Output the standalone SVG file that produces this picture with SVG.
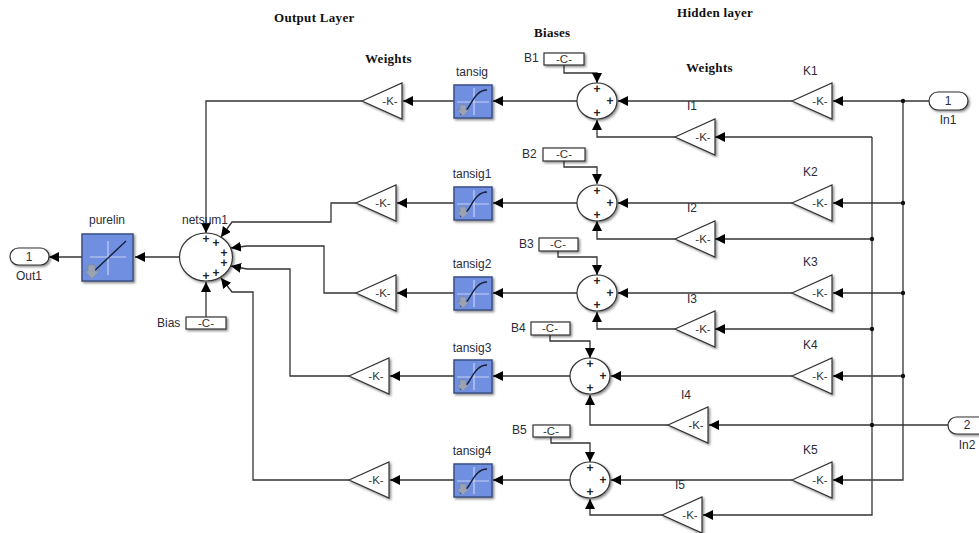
<svg xmlns="http://www.w3.org/2000/svg" width="979" height="533" viewBox="0 0 979 533">
<style>
text{font-family:"Liberation Sans",Arial,sans-serif;font-size:12px;fill:#2b2b3a}
.m{text-anchor:middle}
.t{font-family:"Liberation Serif","Times New Roman",serif;font-size:13px;font-weight:bold;fill:#111;letter-spacing:.3px}
.k{font-size:11.5px;fill:#333}
.p{font-size:12px;font-weight:bold;fill:#222}
.b{fill:#fff;stroke:#333;stroke-width:1.2;filter:url(#s)}
.f{fill:#6f8fe0;stroke:#3a4f85;stroke-width:1.5;filter:url(#s)}
.c path{fill:none;stroke:#333;stroke-width:1.3}
.c circle{fill:#111}
.a{marker-end:url(#ar)}
.x{fill:none;stroke:#c5d2f3;stroke-width:1.2}
.y{fill:none;stroke:#15203a;stroke-width:1.4}
.g{fill:#9aa3b5;stroke:#7d8698;stroke-width:.6}
</style>
<defs>
<filter id="s" x="-20%" y="-20%" width="150%" height="150%"><feDropShadow dx="1.5" dy="1.5" stdDeviation="1" flood-color="#000" flood-opacity=".45"/></filter>
<marker id="ar" markerUnits="userSpaceOnUse" markerWidth="11" markerHeight="11" refX="10" refY="5" orient="auto"><path d="M0 0L10 5L0 10Z" fill="#000"/></marker>
<g id="ts"><rect class="f" x="0" y="0" width="38" height="33"/><path class="x" d="M3 17H35M20 3V30"/><path class="y" d="M6 29C16 29 18 5 33 5"/><path class="g" d="M4 20h6v5h3l-6 6l-6-6h3z" transform="translate(2 0)"/></g>
<polygon id="gn" class="b" points="0,0 40,-18 40,18"/>
</defs>
<g class="c" id="connectors">
<path class="a" d="M82 257H49"/>
<path class="a" d="M179 257H135"/>
<path class="a" d="M206 317V282"/>
<path class="a" d="M362 101H206V233"/>
<path class="a" d="M356 203H331V222H232L221 237"/>
<path class="a" d="M356 293H324V246H247L231 248"/>
<path class="a" d="M349 376H290V269H247L231 266"/>
<path class="a" d="M349 480H253V292H232L221 278"/>
<path class="a" d="M454 101H403"/><path class="a" d="M454 203H397"/><path class="a" d="M454 293H397"/><path class="a" d="M454 376H390"/><path class="a" d="M454 480H390"/>
<path class="a" d="M577 101H493"/><path class="a" d="M577 203H493"/><path class="a" d="M577 293H493"/><path class="a" d="M570 376H493"/><path class="a" d="M570 480H493"/>
<path class="a" d="M792 101H618"/><path class="a" d="M792 203H618"/><path class="a" d="M792 293H618"/><path class="a" d="M792 376H611"/><path class="a" d="M792 480H611"/>
<path class="a" d="M675 137H597V120"/><path class="a" d="M675 239H597V221"/><path class="a" d="M675 329H597V312"/><path class="a" d="M668 425H590V395"/><path class="a" d="M662 515H590V499"/>
<path class="a" d="M564 65V73H597V83"/><path class="a" d="M564 161V167H597V184"/><path class="a" d="M558 251V257H597V275"/><path class="a" d="M550 335V341H590V358"/><path class="a" d="M551 437V443H590V462"/>
<path class="a" d="M929 101H833"/><path class="a" d="M903 203H833"/><path class="a" d="M903 293H833"/><path class="a" d="M903 376H833"/><path class="a" d="M903 101V480H833"/>
<path class="a" d="M872 137H715"/><path class="a" d="M872 239H715"/><path class="a" d="M872 329H715"/><path class="a" d="M948 425H709"/><path class="a" d="M872 137V515H703"/>
<circle cx="903" cy="101" r="2.2"/><circle cx="903" cy="203" r="2.2"/><circle cx="903" cy="293" r="2.2"/><circle cx="903" cy="376" r="2.2"/>
<circle cx="872" cy="239" r="2.2"/><circle cx="872" cy="329" r="2.2"/><circle cx="872" cy="425" r="2.2"/>
</g>
<g id="titles">
<text class="t" x="274" y="22">Output Layer</text>
<text class="t" x="534" y="37">Biases</text>
<text class="t" x="677" y="17">Hidden layer</text>
<text class="t" x="365" y="63">Weights</text>
<text class="t" x="686" y="72">Weights</text>
</g>
<g id="Out1"><rect class="b" x="10" y="248" width="39" height="17" rx="8.5"/><text class="m" x="29" y="261">1</text><text class="m" x="29" y="280">Out1</text></g>
<g id="purelin"><rect class="f" x="82" y="234" width="51" height="47"/><path class="x" d="M90 257H126M108 241V275"/><path class="y" d="M90 275L126 241"/><path class="g" d="M88 265h7v6h4l-7 8l-7-8h3z"/><text class="m" x="107" y="224">purelin</text></g>
<g id="netsum1"><ellipse class="b" cx="206" cy="257" rx="26.5" ry="24"/><text class="m" x="205" y="224">netsum1</text>
<text class="m p" x="206" y="243">+</text><text class="m p" x="216" y="247">+</text><text class="m p" x="224" y="257">+</text><text class="m p" x="224" y="267">+</text><text class="m p" x="216" y="277">+</text><text class="m p" x="206" y="280">+</text></g>
<g id="Bias"><rect class="b" x="186" y="317" width="40" height="12"/><text class="m k" x="206" y="327">-C-</text><text x="157" y="327">Bias</text></g>

<g id="tansig"><use href="#ts" x="454" y="85"/><text class="m" x="472" y="76">tansig</text></g>
<g id="tansig1"><use href="#ts" x="454" y="187"/><text class="m" x="472" y="178">tansig1</text></g>
<g id="tansig2"><use href="#ts" x="454" y="277"/><text class="m" x="472" y="268">tansig2</text></g>
<g id="tansig3"><use href="#ts" x="454" y="360"/><text class="m" x="472" y="352">tansig3</text></g>
<g id="tansig4"><use href="#ts" x="454" y="464"/><text class="m" x="472" y="455">tansig4</text></g>

<g id="W1"><use href="#gn" x="362" y="101"/><text class="m k" x="390" y="105">-K-</text></g>
<g id="W2"><use href="#gn" x="356" y="203"/><text class="m k" x="383" y="207">-K-</text></g>
<g id="W3"><use href="#gn" x="356" y="293"/><text class="m k" x="383" y="297">-K-</text></g>
<g id="W4"><use href="#gn" x="349" y="376"/><text class="m k" x="376" y="380">-K-</text></g>
<g id="W5"><use href="#gn" x="349" y="480"/><text class="m k" x="376" y="484">-K-</text></g>

<g id="S1"><ellipse class="b" cx="597" cy="101" rx="20" ry="18"/><text class="m p" x="597" y="93">+</text><text class="m p" x="610" y="105">+</text><text class="m p" x="597" y="117">+</text></g>
<g id="S2"><ellipse class="b" cx="597" cy="203" rx="20" ry="18"/><text class="m p" x="597" y="195">+</text><text class="m p" x="610" y="207">+</text><text class="m p" x="597" y="219">+</text></g>
<g id="S3"><ellipse class="b" cx="597" cy="293" rx="20" ry="18"/><text class="m p" x="597" y="285">+</text><text class="m p" x="610" y="297">+</text><text class="m p" x="597" y="309">+</text></g>
<g id="S4"><ellipse class="b" cx="590" cy="376" rx="20" ry="18"/><text class="m p" x="590" y="368">+</text><text class="m p" x="603" y="380">+</text><text class="m p" x="590" y="392">+</text></g>
<g id="S5"><ellipse class="b" cx="590" cy="480" rx="20" ry="18"/><text class="m p" x="590" y="472">+</text><text class="m p" x="603" y="484">+</text><text class="m p" x="590" y="496">+</text></g>

<g id="B1"><rect class="b" x="544" y="53" width="40" height="12"/><text class="m k" x="564" y="63">-C-</text><text x="524" y="62">B1</text></g>
<g id="B2"><rect class="b" x="543" y="148" width="42" height="13"/><text class="m k" x="564" y="158">-C-</text><text x="522" y="158">B2</text></g>
<g id="B3"><rect class="b" x="539" y="238" width="39" height="13"/><text class="m k" x="558" y="248">-C-</text><text x="519" y="248">B3</text></g>
<g id="B4"><rect class="b" x="531" y="322" width="39" height="13"/><text class="m k" x="550" y="332">-C-</text><text x="511" y="332">B4</text></g>
<g id="B5"><rect class="b" x="533" y="425" width="37" height="12"/><text class="m k" x="551" y="435">-C-</text><text x="512" y="434">B5</text></g>

<g id="K1"><use href="#gn" x="792" y="101"/><text class="m k" x="820" y="105">-K-</text><text x="803" y="75">K1</text></g>
<g id="K2"><use href="#gn" x="792" y="203"/><text class="m k" x="820" y="207">-K-</text><text x="803" y="176">K2</text></g>
<g id="K3"><use href="#gn" x="792" y="293"/><text class="m k" x="820" y="297">-K-</text><text x="803" y="266">K3</text></g>
<g id="K4"><use href="#gn" x="792" y="376"/><text class="m k" x="820" y="380">-K-</text><text x="803" y="349">K4</text></g>
<g id="K5"><use href="#gn" x="792" y="480"/><text class="m k" x="820" y="484">-K-</text><text x="803" y="454">K5</text></g>

<g id="I1"><use href="#gn" x="675" y="137"/><text class="m k" x="703" y="141">-K-</text><text x="687" y="110">I1</text></g>
<g id="I2"><use href="#gn" x="675" y="239"/><text class="m k" x="703" y="243">-K-</text><text x="687" y="212">I2</text></g>
<g id="I3"><use href="#gn" x="675" y="329"/><text class="m k" x="703" y="333">-K-</text><text x="687" y="303">I3</text></g>
<g id="I4"><use href="#gn" x="668" y="425"/><text class="m k" x="696" y="429">-K-</text><text x="681" y="399">I4</text></g>
<g id="I5"><use href="#gn" x="662" y="515"/><text class="m k" x="690" y="519">-K-</text><text x="675" y="489">I5</text></g>

<g id="In1"><rect class="b" x="929" y="92" width="39" height="18" rx="9"/><text class="m" x="948" y="105">1</text><text class="m" x="948" y="124">In1</text></g>
<g id="In2"><rect class="b" x="948" y="417" width="50" height="17" rx="8.5"/><text class="m" x="967" y="429">2</text><text class="m" x="967" y="449">In2</text></g>
</svg>
